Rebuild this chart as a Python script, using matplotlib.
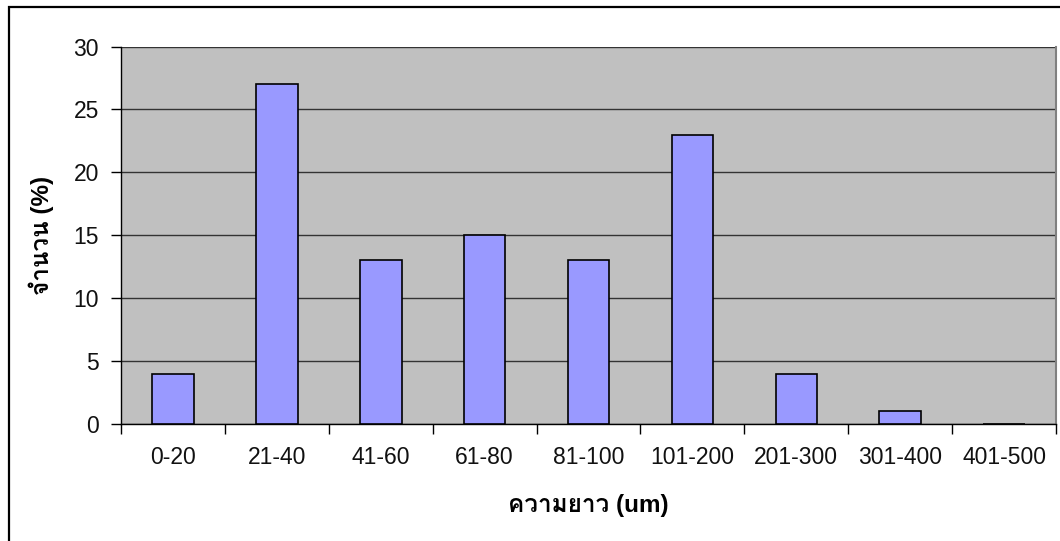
import matplotlib
matplotlib.use("Agg")
import matplotlib.pyplot as plt
from matplotlib import font_manager
from matplotlib.ft2font import FT2Font
from matplotlib.patches import Rectangle

categories = ["0-20", "21-40", "41-60", "61-80", "81-100",
              "101-200", "201-300", "301-400", "401-500"]
percent = [4, 27, 13, 15, 13, 23, 4, 1, 0]
y_ticks = [0, 5, 10, 15, 20, 25, 30]
x_title = "ความยาว (um)"
y_title = "จำนวน (%)"


def families_with(text):
    """Installed font families that cover every character of text."""
    found = []
    for entry in font_manager.fontManager.ttflist:
        if entry.name in found:
            continue
        try:
            cmap = FT2Font(entry.fname).get_charmap()
        except Exception:
            continue
        if all(ord(c) in cmap for c in set(text) if not c.isascii()):
            found.append(entry.name)
    return found


thai_fams = families_with(x_title + y_title)
fams = ["Liberation Sans"] + thai_fams + ["DejaVu Sans"]
plt.rcParams["font.family"] = fams

fig = plt.figure(figsize=(10.6, 5.41), dpi=100)
fig.patch.set_facecolor("white")

# chart frame
fig.add_artist(Rectangle((8.5 / 1060, -0.1), 1.2, (541 - 7) / 541 + 0.1,
                         transform=fig.transFigure, fill=False,
                         edgecolor="black", lw=1.6))

ax = fig.add_axes([121 / 1060, 117 / 541, 935 / 1060, 377.5 / 541])
ax.set_facecolor("#C0C0C0")

x = list(range(len(categories)))
ax.bar(x, percent, width=0.4, color="#9999FF", edgecolor="black",
       linewidth=1.2, zorder=3)

ax.set_xlim(-0.5, len(categories) - 0.5)
ax.set_ylim(0, 30)
ax.set_yticks(y_ticks)
ax.yaxis.grid(True, color="#333333", lw=1.0, zorder=1)
ax.set_axisbelow(True)

# ticks between categories, labels centred on categories
ax.set_xticks([i - 0.5 for i in range(len(categories) + 1)])
ax.set_xticklabels([])
ax.set_xticks(x, minor=True)
ax.set_xticklabels(categories, minor=True, fontsize=16.5, color="#111111")
ax.tick_params(axis="x", which="major", length=7, width=1, direction="out",
               color="black")
ax.tick_params(axis="x", which="minor", length=0, pad=16)
ax.tick_params(axis="y", length=7, width=1, direction="out", labelsize=16.5,
               pad=9, labelcolor="#111111")

for side in ("left", "bottom"):
    ax.spines[side].set_color("black")
    ax.spines[side].set_linewidth(1.0)
ax.spines["top"].set_visible(False)
ax.spines["right"].set_color("#808080")
ax.spines["right"].set_linewidth(1.5)

ax.set_xlabel(x_title, fontsize=17.5, fontweight="bold", labelpad=18)
ax.set_ylabel(y_title, fontsize=17.5, fontweight="bold", labelpad=14)

fig.savefig("out.png", dpi=100)
